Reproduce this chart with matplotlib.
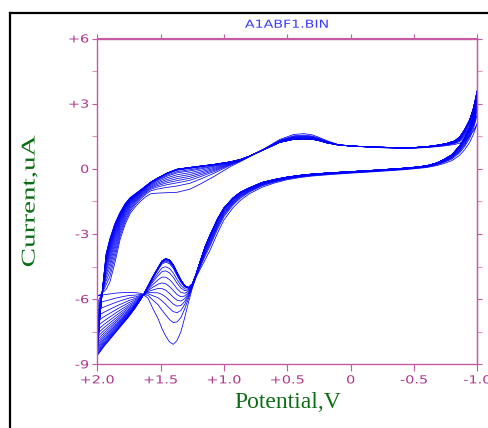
import numpy as np
import matplotlib
matplotlib.use("Agg")
import matplotlib.pyplot as plt
from matplotlib.lines import Line2D
from matplotlib.patheffects import AbstractPathEffect
from matplotlib.transforms import Affine2D

# --- data ----------------------------------------------------------------
# sweep from +2.0 V towards -1.0 V (lower branch)
v_low = [2.0, 1.95, 1.9, 1.85, 1.8, 1.75, 1.7, 1.65, 1.6, 1.56, 1.52, 1.49,
         1.46, 1.43, 1.40, 1.37, 1.34, 1.31, 1.28, 1.25, 1.22, 1.19, 1.15,
         1.11, 1.05, 1.0, 0.93, 0.87, 0.8, 0.7, 0.6, 0.5, 0.4, 0.3, 0.15,
         0.0, -0.2, -0.4, -0.5, -0.6, -0.68, -0.74, -0.8, -0.86, -0.9,
         -0.94, -0.97, -1.0]
i_low_first = [-5.85, -5.8, -5.76, -5.72, -5.7, -5.69, -5.7, -5.74, -5.95,
               -6.45, -6.9, -7.35, -7.7, -7.97, -8.08, -7.9, -7.5, -6.85,
               -6.15, -5.5, -5.0, -4.65, -4.2, -3.75, -2.95, -2.35, -1.8,
               -1.45, -1.15, -0.85, -0.65, -0.5, -0.4, -0.33, -0.26, -0.2,
               -0.13, -0.05, 0.0, 0.06, 0.15, 0.25, 0.38, 0.62, 0.88, 1.22,
               1.6, 2.1]
i_low_last = [-8.6, -8.2, -7.85, -7.5, -7.15, -6.8, -6.4, -5.95, -5.4, -4.95,
              -4.55, -4.25, -4.14, -4.2, -4.42, -4.78, -5.12, -5.38, -5.47,
              -5.3, -4.85, -4.3, -3.6, -3.05, -2.3, -1.8, -1.35, -1.08,
              -0.88, -0.63, -0.49, -0.38, -0.3, -0.24, -0.18, -0.13, -0.06,
              0.02, 0.07, 0.14, 0.27, 0.44, 0.65, 1.05, 1.4, 1.9, 2.5, 3.6]

# sweep back from -1.0 V towards +2.0 V (upper branch)
v_up = [-1.0, -0.97, -0.94, -0.9, -0.86, -0.82, -0.76, -0.7, -0.6, -0.5,
        -0.4, -0.2, 0.0, 0.1, 0.19, 0.25, 0.3, 0.37, 0.45, 0.56, 0.66, 0.8,
        0.87, 0.95, 1.08, 1.19, 1.27, 1.37, 1.45, 1.53, 1.58, 1.62, 1.66,
        1.7, 1.74, 1.78, 1.82, 1.86, 1.9, 1.93, 1.96, 1.98, 2.0]
i_up_first = [2.1, 1.75, 1.5, 1.3, 1.18, 1.12, 1.07, 1.03, 0.98, 0.95, 0.94,
              0.98, 1.05, 1.12, 1.3, 1.45, 1.56, 1.62, 1.58, 1.35, 1.0, 0.55,
              0.33, 0.1, -0.36, -0.71, -0.94, -1.08, -1.1, -1.12, -1.15,
              -1.3, -1.5, -1.75, -2.05, -2.55, -3.25, -4.3, -5.2, -5.55,
              -5.72, -5.8, -5.85]
i_up_last = [3.6, 2.8, 2.25, 1.8, 1.45, 1.28, 1.17, 1.1, 1.02, 0.98, 0.97,
             1.0, 1.05, 1.1, 1.2, 1.3, 1.36, 1.38, 1.36, 1.22, 0.95, 0.58,
             0.43, 0.32, 0.2, 0.12, 0.06, -0.02, -0.2, -0.45, -0.62, -0.8,
             -0.98, -1.15, -1.32, -1.6, -2.0, -2.5, -3.2, -3.9, -5.6, -6.9,
             -8.6]

# per-cycle readings: current where each cycle turns at +2.0 V,
# and the deepest point of each cycle near +1.3 .. +1.45 V
edge_start = [-5.85, -6.2, -6.5, -6.78, -7.02, -7.24, -7.43, -7.6, -7.75,
              -7.88, -8.0, -8.1, -8.19, -8.27, -8.34, -8.41, -8.47, -8.52,
              -8.56, -8.6]
dip_min = [-8.08, -7.08, -6.62, -6.32, -6.09, -5.89, -5.73, -5.61, -5.54,
           -5.5, -5.49, -5.48, -5.48, -5.47, -5.47, -5.47, -5.47, -5.47,
           -5.47, -5.47]

x_ticks = [2.0, 1.5, 1.0, 0.5, 0.0, -0.5, -1.0]
x_labels = ["+2.0", "+1.5", "+1.0", "+0.5", "0", "-0.5", "-1.0"]
y_ticks = [6, 3, 0, -3, -6, -9]
y_labels = ["+6", "+3", "0", "-3", "-6", "-9"]
y_minor = [4.5, 1.5, -1.5, -4.5, -7.5]


class Stretch(AbstractPathEffect):
    """widen glyphs along the text direction (the old plotter font is wide)"""

    def __init__(self, sx, anchor="left"):
        super().__init__()
        self.sx = sx
        self.anchor = anchor

    def draw_path(self, renderer, gc, tpath, affine, rgbFace=None):
        ext = tpath.get_extents()
        x0 = {"left": ext.x0, "center": (ext.x0 + ext.x1) / 2,
              "right": ext.x1}[self.anchor]
        pre = Affine2D().translate(-x0, 0).scale(self.sx, 1).translate(x0, 0)
        renderer.draw_path(gc, tpath, pre + affine, rgbFace)


spine_col = "#c65aa2"
minor_col = "#dc96c8"
label_col = "#b0368c"
green = "#0b6e12"

v_low = np.array(v_low)
v_up = np.array(v_up)
lf, ll = np.array(i_low_first), np.array(i_low_last)
uf, ul = np.array(i_up_first), np.array(i_up_last)

# weight of each cycle between first and last sweep
w_edge = (edge_start[0] - np.array(edge_start)) / (edge_start[0] - edge_start[-1])
wgrid = np.linspace(0, 1, 401)
mask = (v_low >= 1.2) & (v_low <= 1.45)
mins = np.array([np.min((lf + (ll - lf) * w)[mask]) for w in wgrid])
w_dip = np.interp(dip_min, mins, wgrid)


def weight(v, wd, we):
    t = np.clip((v - 1.55) / 0.2, 0, 1)
    return wd * (1 - t) + we * t


fig = plt.figure(figsize=(4.89, 4.28), dpi=100)
ax = fig.add_axes([97.3 / 489, 1 - 364.3 / 428, 380 / 489, 325.8 / 428])

for wd, we in zip(w_dip, w_edge):
    wl = weight(v_low, wd, we)
    wu = weight(v_up, wd, we)
    v = np.concatenate([v_low, v_up])
    i = np.concatenate([lf + (ll - lf) * wl, uf + (ul - uf) * wu])
    ax.plot(v, i, color="#0000ff", lw=0.55)

ax.set_xlim(2.0, -1.0)
ax.set_ylim(-9, 6)
for s in ax.spines.values():
    s.set_color(spine_col)
    s.set_linewidth(1.0)

ax.set_xticks(x_ticks)
ax.set_xticklabels(x_labels)
ax.set_yticks(y_ticks)
ax.set_yticklabels(y_labels)
ax.set_yticks(y_minor, minor=True)
ax.tick_params(axis="x", direction="out", length=5, width=0.8, color=spine_col,
               labelcolor=label_col, labelsize=8, pad=3)
ax.tick_params(axis="y", which="major", direction="out", length=3.6, width=0.8,
               color=spine_col, labelcolor=label_col, labelsize=8, pad=2.4)
ax.tick_params(axis="y", which="minor", direction="out", length=3.6, width=0.8,
               color=minor_col)
for t in ax.get_xticklabels():
    t.set_path_effects([Stretch(1.3, "center")])
for t in ax.get_yticklabels():
    t.set_path_effects([Stretch(1.3, "right")])

top = ax.secondary_xaxis("top")
top.set_xticks(x_ticks)
top.tick_params(direction="out", length=3, width=0.8, color=spine_col,
                labeltop=False)
top.spines["top"].set_color(spine_col)
right = ax.secondary_yaxis("right")
right.set_yticks(y_ticks)
right.set_yticks(y_minor, minor=True)
right.tick_params(which="both", direction="out", length=3.6, width=0.8,
                  color=spine_col, labelright=False)
right.tick_params(which="minor", color=minor_col)
right.spines["right"].set_color(spine_col)

fig.text(245 / 489, 1 - 27.7 / 428, "A1ABF1.BIN", color="#3c3cff", fontsize=7.9,
         ha="left", va="baseline", path_effects=[Stretch(1.29, "left")])
fig.text(287.3 / 489, 1 - 408.3 / 428, "Potential,V", color=green,
         family="Liberation Serif", fontsize=17, ha="center", va="baseline")
fig.text(30 / 489, 1 - 267 / 428, "Current,uA", color=green, rotation=90,
         family="Liberation Serif", fontsize=14, ha="center", va="bottom",
         path_effects=[Stretch(1.5, "left")])

# window frame of the old plotting program
fy = 1 - 13 / 428
fx = 10 / 489
fig.add_artist(Line2D([fx, fx], [0, fy], color="black", lw=1.6,
                      transform=fig.transFigure))
fig.add_artist(Line2D([fx, 1], [fy, fy], color="black", lw=1.6,
                      transform=fig.transFigure))

fig.savefig("out.png", dpi=100)
